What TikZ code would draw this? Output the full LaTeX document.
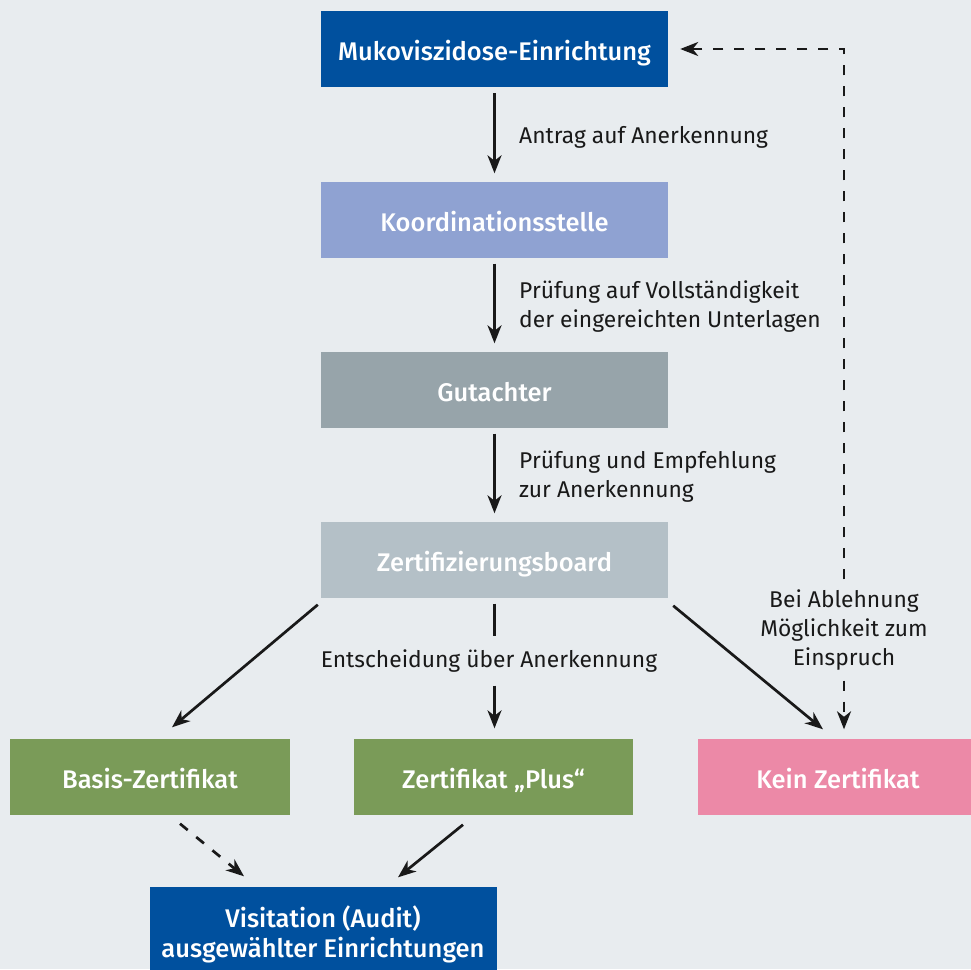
\documentclass[tikz,border=0pt]{standalone}
\usepackage{fontspec}
\setmainfont{Fira Sans}
\newfontfamily\boxfont{Fira Sans Medium}
\usetikzlibrary{arrows.meta}
\definecolor{bg}{RGB}{232,236,239}
\definecolor{dblue}{RGB}{0,80,158}
\definecolor{koordc}{RGB}{143,162,210}
\definecolor{gutc}{RGB}{151,164,170}
\definecolor{boardc}{RGB}{180,192,199}
\definecolor{greenc}{RGB}{122,155,88}
\definecolor{pinkc}{RGB}{236,137,167}
\definecolor{txt}{RGB}{25,25,25}
\begin{document}
\begin{tikzpicture}[x=1pt,y=-1pt,
  boxbase/.style={minimum width=347pt, minimum height=76pt, inner sep=0pt, text=white,
    font=\boxfont\fontsize{25.5}{30}\selectfont, align=center},
  box/.style={boxbase, text height=23.5pt, text depth=0pt},
  lbl/.style={font=\fontsize{22.8}{29}\selectfont, text=txt, align=left, inner sep=0pt},
  clbl/.style={font=\fontsize{22.8}{29}\selectfont, text=txt, align=center, inner sep=0pt},
  conn/.style={line width=2.7pt, draw=txt},
  arr/.style={conn, -{Stealth[length=18pt,width=14pt,inset=5.5pt]}},
  dsh/.style={dash pattern=on 10pt off 11pt},
]
\fill[bg] (0,0) rectangle (971,969);
\useasboundingbox (0,0) rectangle (971,969);
\clip (0,0) rectangle (971,969);

\node[box, fill=dblue] (muko) at (494.5,49) {Mukoviszidose-Einrichtung};
\node[box, fill=koordc] (koord) at (494.5,219.5) {Koordinationsstelle};
\node[box, fill=gutc] (gut) at (494.5,389.5) {Gutachter};
\node[box, fill=boardc] (board) at (494.5,559.5) {Zertifizierungsboard};
\node[box, fill=greenc, minimum width=280pt] (basis) at (150,776.5) {Basis-Zertifikat};
\node[box, fill=greenc, minimum width=279pt] (plus) at (493.5,776.5) {Zertifikat „Plus“};
\node[box, fill=pinkc, minimum width=280pt] (kein) at (838,776.5) {Kein Zertifikat};
\node[boxbase, fill=dblue, minimum height=96pt] (visit) at (323,934.5) {Visitation (Audit)\\ausgewählter Einrichtungen};

\node[lbl, anchor=west] (l1) at (519,137) {Antrag auf Anerkennung};
\node[lbl, anchor=west] (l2) at (519,307) {Prüfung auf Vollständigkeit\\der eingereichten Unterlagen};
\node[lbl, anchor=west] (l3) at (519,477) {Prüfung und Empfehlung\\zur Anerkennung};
\node[clbl, inner ysep=13pt] (ent) at (489,661) {Entscheidung über Anerkennung};
\node[clbl, inner ysep=10pt] (abl) at (844,630) {Bei Ablehnung\\Möglichkeit zum\\Einspruch};

\draw[arr, shorten <=6pt, shorten >=8pt] (muko.south) -- (koord.north);
\draw[arr, shorten <=6pt, shorten >=8pt] (koord.south) -- (gut.north);
\draw[arr, shorten <=6pt, shorten >=8pt] (gut.south) -- (board.north);

\draw[conn, shorten <=6pt] (board.south) -- (board.south |- ent.north);
\draw[arr, shorten >=10pt] (board.south |- ent.south) -- (board.south |- plus.north);

\draw[arr] ([shift={(-3,7)}]board.south west) -- ([shift={(22,-11)}]basis.north);
\draw[arr] ([shift={(5,8)}]board.south east) -- ([shift={(-15,-9)}]kein.north);

\draw[arr, dsh, shorten >=9pt] (abl.south) -- (abl.south |- kein.north);
\draw[arr, dsh, shorten >=12pt] (abl.north) |- (muko.east);

\draw[arr, dsh] ([shift={(30,9)}]basis.south) -- ([shift={(-79,-10)}]visit.north);
\draw[arr] ([shift={(-30.5,10)}]plus.south) -- ([shift={(75,-9)}]visit.north);
\end{tikzpicture}
\end{document}
